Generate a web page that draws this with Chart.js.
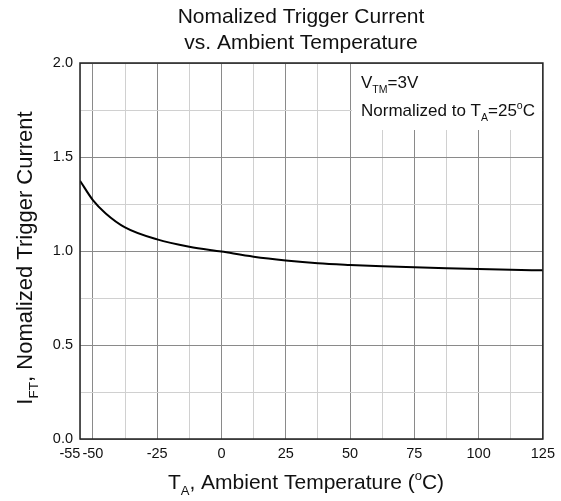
<!DOCTYPE html>
<html>
<head>
<meta charset="utf-8">
<script src="https://cdn.jsdelivr.net/npm/chart.js@4.4.1/dist/chart.umd.min.js"></script>
<style>
  body { margin: 0; background: #fff; }
  #wrap { width: 561px; height: 501px; position: relative; }
</style>
</head>
<body>
<div id="wrap"><canvas id="tempChart"></canvas></div>
<script>
// Data
const temps = [-55, -50, -45, -37.5, -25, -12.5, 0, 12.5, 25, 37.5, 50, 62.5, 75, 87.5, 100, 112.5, 125];
const current = [1.374, 1.271, 1.200, 1.126, 1.062, 1.023, 0.997, 0.970, 0.950, 0.935, 0.926, 0.919, 0.913, 0.908, 0.904, 0.900, 0.897];
const xTicks = [-55, -50, -37.5, -25, -12.5, 0, 12.5, 25, 37.5, 50, 62.5, 75, 87.5, 100, 112.5, 125];
const xLabels = [-55, -50, -25, 0, 25, 50, 75, 100, 125];
const yLabels = [0, 0.5, 1.0, 1.5, 2.0];

const FONT = "'Liberation Sans', Arial, sans-serif";

// draw text made of normal / sub / sup parts, starting at x
function drawRich(ctx, parts, x, y, size) {
  parts.forEach(p => {
    let s = size, dy = 0;
    if (p.sub) { s = size * 0.62; dy = size * 0.28; }
    if (p.sup) { s = size * 0.62; dy = -size * 0.42; }
    ctx.font = s + "px " + FONT;
    ctx.fillText(p.t, x, y + dy);
    x += ctx.measureText(p.t).width;
  });
}
function richWidth(ctx, parts, size) {
  let w = 0;
  parts.forEach(p => {
    const s = (p.sub || p.sup) ? size * 0.62 : size;
    ctx.font = s + "px " + FONT;
    w += ctx.measureText(p.t).width;
  });
  return w;
}

const decorations = {
  id: "decorations",
  beforeDatasetsDraw(chart) {
    const { ctx, chartArea } = chart;
    // white box behind the note text
    ctx.save();
    ctx.fillStyle = "#fff";
    ctx.fillRect(352, chartArea.top + 1, chartArea.right - 353, 66);
    ctx.fillStyle = "#111";
    ctx.textBaseline = "alphabetic";
    ctx.textAlign = "left";
    drawRich(ctx, [{ t: "V" }, { t: "TM", sub: true }, { t: "=3V" }], 361, 88, 17);
    drawRich(ctx, [{ t: "Normalized to T" }, { t: "A", sub: true }, { t: "=25" }, { t: "o", sup: true }, { t: "C" }], 361, 116, 17);
    ctx.restore();
  },
  afterDraw(chart) {
    const { ctx, chartArea } = chart;
    ctx.save();
    // frame
    ctx.strokeStyle = "#222";
    ctx.lineWidth = 1.5;
    ctx.strokeRect(chartArea.left, chartArea.top, chartArea.right - chartArea.left, chartArea.bottom - chartArea.top);

    ctx.fillStyle = "#111";
    ctx.textBaseline = "alphabetic";
    ctx.textAlign = "center";
    ctx.font = "21px " + FONT;
    ctx.fillText("Nomalized Trigger Current", 301, 23);
    ctx.fillText("vs. Ambient Temperature", 301, 49);

    // x axis title
    ctx.textAlign = "left";
    const xt = [{ t: "T" }, { t: "A", sub: true }, { t: ", Ambient Temperature (" }, { t: "o", sup: true }, { t: "C)" }];
    const xw = richWidth(ctx, xt, 21);
    drawRich(ctx, xt, 306 - xw / 2, 489, 21);

    // y axis title
    ctx.translate(32, 258);
    ctx.rotate(-Math.PI / 2);
    const yt = [{ t: "I" }, { t: "FT", sub: true }, { t: ", Nomalized Trigger Current" }];
    const yw = richWidth(ctx, yt, 22);
    drawRich(ctx, yt, -yw / 2, 0, 22);
    ctx.restore();
  }
};

const ctx = document.getElementById("tempChart").getContext("2d");
const tempChart = new Chart(ctx, {
  type: "line",
  data: {
    datasets: [{
      data: temps.map((t, i) => ({ x: t, y: current[i] })),
      borderColor: "#000",
      borderWidth: 2,
      pointRadius: 0,
      fill: false,
      cubicInterpolationMode: "monotone"
    }]
  },
  options: {
    responsive: true,
    maintainAspectRatio: false,
    animation: false,
    layout: { padding: { top: 63, right: 18, left: 0, bottom: 0 } },
    plugins: { legend: { display: false }, tooltip: { enabled: false } },
    scales: {
      x: {
        type: "linear",
        min: -55,
        max: 125,
        afterBuildTicks: scale => { scale.ticks = xTicks.map(v => ({ value: v })); },
        afterFit: scale => { scale.height = 62; },
        ticks: {
          autoSkip: false,
          maxRotation: 0,
          padding: 6,
          color: "#111",
          font: { family: FONT, size: 14.5 },
          callback: v => {
            if (v === -55) return "-55     ";
            return xLabels.includes(v) ? String(v) : "";
          }
        },
        grid: {
          drawTicks: false,
          color: c => (c.tick.value % 25 === 0 ? "#8a8a8a" : "#d0d0d0"),
          lineWidth: 1
        },
        border: { display: false }
      },
      y: {
        min: 0,
        max: 2,
        afterBuildTicks: scale => {
          scale.ticks = [0, 0.25, 0.5, 0.75, 1, 1.25, 1.5, 1.75, 2].map(v => ({ value: v }));
        },
        afterFit: scale => { scale.width = 80; },
        ticks: {
          padding: 7,
          color: "#111",
          font: { family: FONT, size: 14.5 },
          callback: v => (yLabels.includes(v) ? v.toFixed(1) : "")
        },
        grid: {
          drawTicks: false,
          color: c => (c.tick.value % 0.5 === 0 ? "#8a8a8a" : "#d0d0d0"),
          lineWidth: 1
        },
        border: { display: false }
      }
    }
  },
  plugins: [decorations]
});
</script>
</body>
</html>
